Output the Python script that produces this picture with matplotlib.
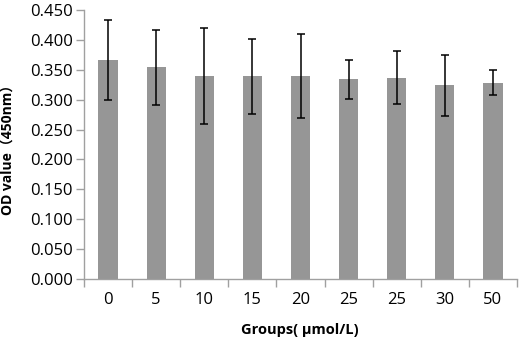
import matplotlib
matplotlib.use("Agg")
import matplotlib.pyplot as plt
import numpy as np

categories = ["0", "5", "10", "15", "20", "25", "25", "30", "50"]
values = [0.366, 0.354, 0.340, 0.339, 0.340, 0.334, 0.337, 0.324, 0.328]
errors = [0.067, 0.063, 0.080, 0.0625, 0.070, 0.033, 0.044, 0.051, 0.021]
yticks = [0.0, 0.05, 0.10, 0.15, 0.20, 0.25, 0.30, 0.35, 0.40, 0.45]

plt.rcParams['font.family'] = ['Open Sans', 'Noto Sans CJK SC', 'DejaVu Sans']

W, H = 519, 342
fig = plt.figure(figsize=(W / 100, H / 100), dpi=100)
ax = fig.add_axes([84/W, 1 - 279/H, (517 - 84)/W, (279 - 10)/H])

x = np.arange(len(categories))
ax.bar(x, values, width=0.4, color="#969696", zorder=2)
ax.errorbar(x, values, yerr=errors, fmt="none", ecolor="black", elinewidth=1.1,
            capsize=3, capthick=1.1, zorder=3)

ax.set_xlim(-0.5, len(categories) - 0.5)
ax.set_ylim(0, 0.45)
ax.set_yticks(yticks)
ax.set_yticklabels([f"{t:.3f}" for t in yticks], fontsize=12)
ax.set_xticks(np.arange(len(categories) + 1) - 0.5, minor=False)
ax.set_xticklabels([])
ax.set_xticks(x, minor=True)
ax.set_xticklabels(categories, minor=True, fontsize=12)
ax.tick_params(axis="x", which="minor", length=0, pad=9)
ax.tick_params(axis="x", which="major", length=6, color="#a0a0a0", width=1)
ax.tick_params(axis="y", length=6, color="#a0a0a0", width=1, pad=2)

for s in ["top", "right"]:
    ax.spines[s].set_visible(False)
for s in ["left", "bottom"]:
    ax.spines[s].set_color("#a0a0a0")
    ax.spines[s].set_linewidth(1)

fig.text(9/W, 1 - 146/H, "OD value（450nm）", rotation=90, fontsize=10,
         fontweight="bold", ha="center", va="center")
fig.text(300/W, 1 - 330/H, "Groups( μmol/L)", fontsize=10.5,
         fontweight="bold", ha="center", va="center")

fig.savefig("out.png", dpi=100)
